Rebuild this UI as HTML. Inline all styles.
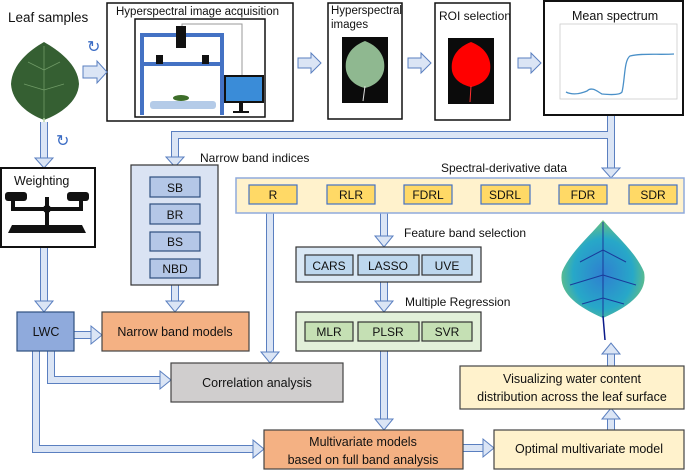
<!DOCTYPE html>
<html><head><meta charset="utf-8"><style>
body{margin:0;background:#fff;}
svg{display:block;font-family:"Liberation Sans",sans-serif;}
</style></head><body>
<svg width="685" height="470" viewBox="0 0 685 470" xmlns="http://www.w3.org/2000/svg">
<defs>
<radialGradient id="lg" cx="0.5" cy="0.55" r="0.6"><stop offset="0" stop-color="#2f7fd0"/><stop offset="0.6" stop-color="#27a8c8"/><stop offset="1" stop-color="#7cc86a"/></radialGradient>
</defs>
<g font-size="12.5" fill="#111">
<text x="8" y="22" font-size="13.5">Leaf samples</text>
<path d="M44 42 C30 50 12 64 11 84 C12 102 28 114 44 120 C60 114 78 102 79 84 C78 64 58 50 44 42Z" fill="#355f32"/>
<path d="M44 46V120 M44 70L28 62 M44 70L60 62 M44 90L24 84 M44 90L64 84" stroke="#6f9a66" stroke-width="0.8" fill="none"/>
<line x1="44" y1="118" x2="44" y2="152" stroke="#b7d6a8" stroke-width="1.5"/>
<text x="87" y="52" font-size="16" fill="#3a6bc4">↻</text>
<rect x="107" y="3" width="186" height="118" fill="#fff" stroke="#111" stroke-width="1.5"/>
<text x="116" y="15" font-size="11.5">Hyperspectral image acquisition</text>
<rect x="135" y="19" width="130" height="98" fill="#fff" stroke="#111" stroke-width="1.5"/>
<path d="M142 115V35H222V115M142 64H222" fill="none" stroke="#4472c4" stroke-width="4"/>
<rect x="176" y="26" width="10" height="22" fill="#111"/>
<polyline points="182,26 182,24 242,24 242,77" fill="none" stroke="#999"/>
<rect x="156" y="55" width="7" height="9" fill="#111"/><rect x="202" y="55" width="7" height="9" fill="#111"/>
<rect x="150" y="101" width="66" height="8" rx="3" fill="#b4cbe8"/>
<ellipse cx="181" cy="98" rx="8" ry="3" fill="#3d6e2a"/>
<rect x="225" y="76" width="38" height="26" fill="#3a8cd8" stroke="#111" stroke-width="2"/>
<rect x="239" y="102" width="4" height="10" fill="#111"/><rect x="233" y="111" width="16" height="2" fill="#111"/>
<rect x="328" y="3" width="74" height="116" fill="#fff" stroke="#111" stroke-width="1.5"/>
<text x="331" y="14" font-size="11.5">Hyperspectral</text><text x="331" y="28" font-size="11.5">images</text>
<rect x="342" y="37" width="46" height="66" fill="#0b0b0b"/>
<path d="M365 41C352 46 344 56 346 70C348 80 356 86 365 88C374 86 382 80 384 70C386 56 378 46 365 41Z" fill="#8fb890"/>
<line x1="365" y1="86" x2="363" y2="101" stroke="#ddd"/>
<rect x="435" y="3" width="75" height="117" fill="#fff" stroke="#111" stroke-width="1.5"/>
<text x="439" y="20" font-size="12">ROI selection</text>
<rect x="448" y="38" width="46" height="66" fill="#0b0b0b"/>
<path d="M471 42C458 47 450 57 452 71C454 80 462 85 471 87C480 85 488 80 490 71C492 57 484 47 471 42Z" fill="#ff0000"/>
<line x1="471" y1="86" x2="470" y2="102" stroke="#ff3030"/>
<rect x="544" y="1" width="139" height="114" fill="#fff" stroke="#111" stroke-width="2"/>
<text x="572" y="20" font-size="12.5">Mean spectrum</text>
<rect x="560" y="24" width="117" height="75" fill="#fff" stroke="#ccc" stroke-width="0.8"/>
<path d="M566 92C572 95 580 94 587 91C592 86 598 92 602 94C612 95 620 95 622 92C625 80 624 60 630 56C640 53 660 55 674 54" fill="none" stroke="#4a90c8" stroke-width="1.3"/>
<g fill="#dbe5f5" stroke="#5a7fc0" stroke-width="1">
<polygon points="83,66 97,66 97,61 107,72 97,83 97,78 83,78"/>
<polygon points="298,58 311,58 311,53 321,63 311,73 311,68 298,68"/>
<polygon points="408,58 421,58 421,53 431,63 421,73 421,68 408,68"/>
<polygon points="518,58 531,58 531,53 541,63 531,73 531,68 518,68"/>
</g>
<g fill="none" stroke-linejoin="miter">
<path d="M611 116V170 M611 135H175V158 M44 122V159 M44 247V302 M175 285V302 M384 213V237 M384 282V302 M384 351V420 M270 213V353 M51 351V380H161 M36 351V449H254 M74 335H92 M463 448H484 M611 430V418 M611 366V353" stroke="#5a7fc0" stroke-width="8"/>
<path d="M611 116V170 M611 135H175V158 M44 122V159 M44 247V302 M175 285V302 M384 213V237 M384 282V302 M384 351V420 M270 213V353 M51 351V380H161 M36 351V449H254 M74 335H92 M463 448H484 M611 430V418 M611 366V353" stroke="#dbe5f5" stroke-width="6"/>
</g>
<g fill="#dbe5f5" stroke="#5a7fc0" stroke-width="1">
<polygon points="602,168 620,168 611,178"/>
<polygon points="166,157 184,157 175,167"/>
<polygon points="35,158 53,158 44,168"/>
<polygon points="35,301 53,301 44,312"/>
<polygon points="166,301 184,301 175,312"/>
<polygon points="375,236 393,236 384,247"/>
<polygon points="375,301 393,301 384,312"/>
<polygon points="375,419 393,419 384,430"/>
<polygon points="261,352 279,352 270,363"/>
<polygon points="160,371 160,389 171,380"/>
<polygon points="253,440 253,458 264,449"/>
<polygon points="91,326 91,344 102,335"/>
<polygon points="483,439 483,457 494,448"/>
<polygon points="602,419 620,419 611,408"/>
<polygon points="602,354 620,354 611,343"/>
</g>
<text x="56" y="146" font-size="16" fill="#3a6bc4">↻</text>
<rect x="1" y="168" width="94" height="79" fill="#fff" stroke="#111" stroke-width="2"/>
<text x="14" y="185" font-size="12.5">Weighting</text>
<rect x="5" y="192" width="22" height="9" rx="3" fill="#111"/><rect x="67" y="192" width="22" height="9" rx="3" fill="#111"/>
<path d="M13 200V209H81V200 M47 197V226" stroke="#111" stroke-width="4" fill="none"/>
<circle cx="47" cy="209" r="4" fill="#111"/>
<polygon points="8,233 86,233 82,225 12,225" fill="#111"/>
<text x="200" y="162" font-size="12">Narrow band indices</text>
<rect x="131" y="165" width="87" height="120" fill="#dae3f3" stroke="#333" stroke-width="1.2"/>
<g fill="#b4c7e7" stroke="#2f4f7f" stroke-width="1.2">
<rect x="150" y="177" width="50" height="20"/><rect x="150" y="204" width="50" height="20"/><rect x="150" y="232" width="50" height="19"/><rect x="150" y="259" width="50" height="19"/>
</g>
<g text-anchor="middle" font-size="12"><text x="175" y="192">SB</text><text x="175" y="219">BR</text><text x="175" y="246">BS</text><text x="175" y="273">NBD</text></g>
<text x="441" y="172" font-size="12">Spectral-derivative data</text>
<rect x="236" y="178" width="448" height="35" fill="#fff2cc" stroke="#8faadc" stroke-width="1.5"/>
<g fill="#ffd966" stroke="#4472c4" stroke-width="1.2">
<rect x="249" y="185" width="48" height="19"/><rect x="327" y="185" width="48" height="19"/><rect x="404" y="185" width="48" height="19"/><rect x="481" y="185" width="49" height="19"/><rect x="559" y="185" width="48" height="19"/><rect x="629" y="185" width="48" height="19"/>
</g>
<g text-anchor="middle" font-size="12"><text x="273" y="199">R</text><text x="351" y="199">RLR</text><text x="428" y="199">FDRL</text><text x="505" y="199">SDRL</text><text x="583" y="199">FDR</text><text x="653" y="199">SDR</text></g>
<text x="404" y="237" font-size="12">Feature band selection</text>
<rect x="296" y="247" width="185" height="35" fill="#dae8f5" stroke="#333" stroke-width="1.2"/>
<g fill="#bdd7ee" stroke="#333" stroke-width="1.2"><rect x="305" y="255" width="48" height="20"/><rect x="358" y="255" width="61" height="20"/><rect x="422" y="255" width="50" height="20"/></g>
<g text-anchor="middle" font-size="12"><text x="329" y="270">CARS</text><text x="388" y="270">LASSO</text><text x="447" y="270">UVE</text></g>
<text x="405" y="306" font-size="12">Multiple Regression</text>
<rect x="296" y="312" width="185" height="39" fill="#e2f0d9" stroke="#333" stroke-width="1.2"/>
<g fill="#c5e0b4" stroke="#333" stroke-width="1.2"><rect x="305" y="322" width="48" height="19"/><rect x="358" y="322" width="61" height="19"/><rect x="422" y="322" width="50" height="19"/></g>
<g text-anchor="middle" font-size="12"><text x="329" y="336">MLR</text><text x="388" y="336">PLSR</text><text x="447" y="336">SVR</text></g>
<path d="M603 220C592 234 570 252 562 272C558 292 576 306 603 318C630 306 648 292 644 272C636 252 614 234 603 220Z" fill="url(#lg)"/>
<path d="M603 222V318 M603 250L580 262 M603 250L626 262 M603 275L570 285 M603 275L636 285 M603 298L582 304 M603 298L624 304" stroke="#1a3a9a" stroke-width="1" fill="none"/>
<line x1="603" y1="316" x2="605" y2="340" stroke="#0a1a8a" stroke-width="1.5"/>
<rect x="17" y="312" width="57" height="39" fill="#8faadc" stroke="#2f4f7f" stroke-width="1.2"/>
<text x="46" y="336" text-anchor="middle">LWC</text>
<rect x="102" y="312" width="147" height="39" fill="#f4b183" stroke="#444" stroke-width="1.2"/>
<text x="175" y="336" text-anchor="middle">Narrow band models</text>
<rect x="171" y="363" width="172" height="39" fill="#d0cece" stroke="#444" stroke-width="1.2"/>
<text x="257" y="387" text-anchor="middle">Correlation analysis</text>
<rect x="264" y="430" width="199" height="39" fill="#f4b183" stroke="#444" stroke-width="1.2"/>
<text x="363" y="446" text-anchor="middle">Multivariate models</text>
<text x="363" y="464" text-anchor="middle">based on full band analysis</text>
<rect x="494" y="430" width="190" height="39" fill="#fff2cc" stroke="#444" stroke-width="1.2"/>
<text x="589" y="453" text-anchor="middle">Optimal multivariate model</text>
<rect x="460" y="366" width="224" height="43" fill="#fff2cc" stroke="#444" stroke-width="1.2"/>
<text x="572" y="383" text-anchor="middle">Visualizing water content</text>
<text x="572" y="401" text-anchor="middle">distribution across the leaf surface</text>
</g>
</svg>
</body></html>
